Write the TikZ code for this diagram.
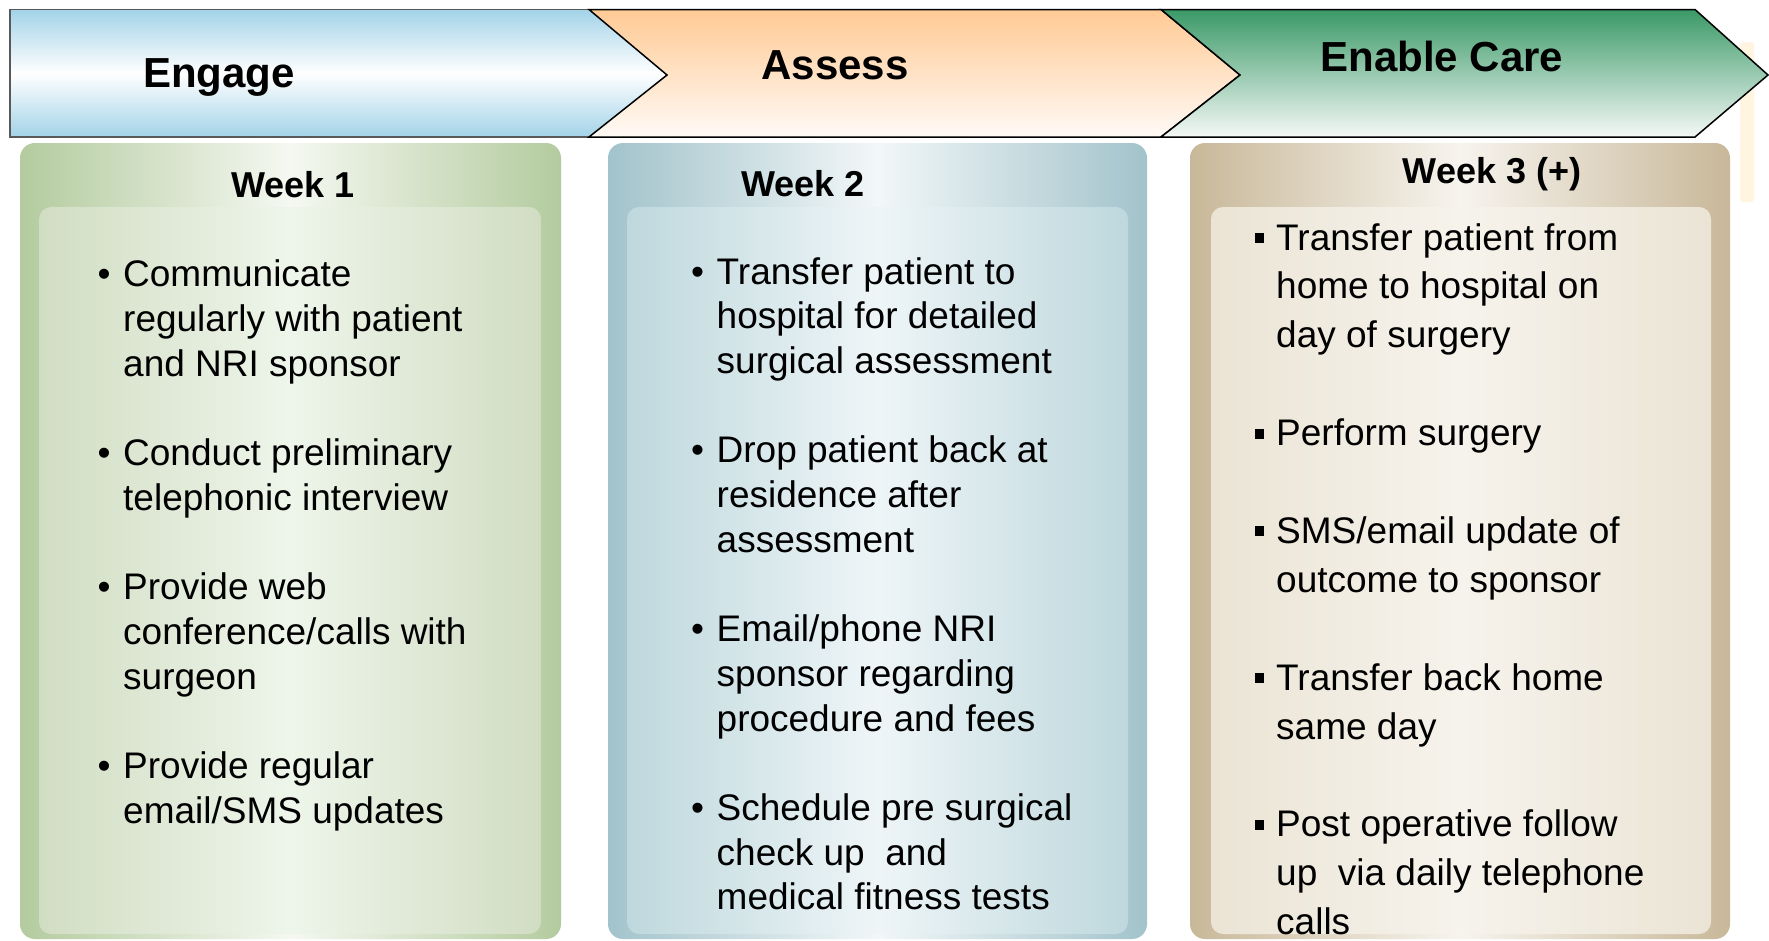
\documentclass[tikz,border=0pt]{standalone}
\usepackage{fontspec}
\setmainfont{Liberation Sans}
\definecolor{engblue}{HTML}{A3D3E8}
\definecolor{assor}{HTML}{FFCA94}
\definecolor{assbot}{HTML}{FFFAF6}
\definecolor{engreen}{HTML}{3A9967}
\definecolor{enbot}{HTML}{F5F9F7}
\definecolor{gOut}{HTML}{B3CB9E}
\definecolor{gOutMid}{HTML}{F5F8F1}
\definecolor{gIn}{HTML}{D1DDC3}
\definecolor{gInMid}{HTML}{EEF5EA}
\definecolor{bOut}{HTML}{A2C3CB}
\definecolor{bOutMid}{HTML}{F2F7F8}
\definecolor{bIn}{HTML}{BED8DD}
\definecolor{bInMid}{HTML}{EEF5F7}
\definecolor{tOut}{HTML}{C8B899}
\definecolor{tOutMid}{HTML}{F7F4EE}
\definecolor{tIn}{HTML}{EBE4D5}
\definecolor{tInMid}{HTML}{F6F3EC}
\definecolor{cream}{HTML}{FFF5E1}
\tikzset{
  bannerline/.style={line width=1.5pt, line join=miter},
  bigtitle/.style={font=\fontsize{42}{50}\selectfont\bfseries, anchor=base, inner sep=0pt},
  weektitle/.style={font=\fontsize{36}{43}\selectfont\bfseries, anchor=base, inner sep=0pt},
  itemnode/.style={anchor=base west, inner sep=0pt},
}
\newcommand\dotitem[5]{% name, x, y, baselineskip, text
  \node[itemnode] (#1) at (#2,#3) {\parbox[t]{450pt}{\fontsize{37}{#4}\selectfont
    \hangindent=25.5pt\hangafter=1\noindent\makebox[25.5pt][l]{•}#5}};}
\newcommand\sqitem[5]{% name, x, y, baselineskip, text
  \node[itemnode] (#1) at (#2,#3) {\parbox[t]{450pt}{\fontsize{37}{#4}\selectfont
    \hangindent=22pt\hangafter=1\noindent\makebox[22pt][l]{\hspace{1pt}\rule[7pt]{9pt}{10pt}}#5}};}
\begin{document}
\begin{tikzpicture}[x=1pt,y=-1pt]
\useasboundingbox (0,0) rectangle (1769,940);
\fill[white] (0,0) rectangle (1769,940);
% faint cream shape at the right edge
\fill[cream, rounded corners=3pt] (1740,42) rectangle (1754,202);

% banner chevrons
\shade[top color=engblue, bottom color=engblue, middle color=white]
  (10,9.5) -- (589,9.5) -- (667,75) -- (589,137) -- (10,137) -- cycle;
\draw[bannerline, draw=black!65]
  (589,137) -- (10,137) -- (10,9.5) -- (589,9.5);
\shade[top color=assor, bottom color=assbot]
  (589,9.5) -- (1161,9.5) -- (1240,75) -- (1161,137) -- (589,137) -- (667,75) -- cycle;
\draw[bannerline]
  (589,9.5) -- (1161,9.5) -- (1240,75) -- (1161,137) -- (589,137) -- (667,75) -- cycle;
\shade[top color=engreen, bottom color=enbot]
  (1161,9.5) -- (1695,9.5) -- (1768,75) -- (1695,137) -- (1161,137) -- (1240,75) -- cycle;
\draw[bannerline]
  (1161,9.5) -- (1695,9.5) -- (1768,75) -- (1695,137) -- (1161,137) -- (1240,75) -- cycle;

\node[bigtitle] (engage) at (219,87) {Engage};
\node[bigtitle] (assess) at (835,79) {Assess};
\node[bigtitle] (enable) at (1442,71) {Enable Care};

% column boxes
\shade[rounded corners=15pt, left color=gOut, right color=gOut, middle color=gOutMid]
  (20,143) rectangle (561,939);
\shade[rounded corners=12pt, left color=gIn, right color=gIn, middle color=gInMid]
  (39,207) rectangle (541,934);
\shade[rounded corners=15pt, left color=bOut, right color=bOut, middle color=bOutMid]
  (608,143) rectangle (1147,939);
\shade[rounded corners=12pt, left color=bIn, right color=bIn, middle color=bInMid]
  (627,207) rectangle (1128,934);
\shade[rounded corners=15pt, left color=tOut, right color=tOut, middle color=tOutMid]
  (1190,143) rectangle (1730,939);
\shade[rounded corners=12pt, left color=tIn, right color=tIn, middle color=tInMid]
  (1211,207) rectangle (1711,934);

\node[weektitle] (w1) at (293,197) {Week 1};
\node[weektitle] (w2) at (803,196) {Week 2};
\node[weektitle] (w3) at (1492,183) {Week 3 (+)};

% Week 1 items
\dotitem{a1}{97.5}{286.7}{44.7}{Communicate\\regularly with patient\\and NRI sponsor}
\dotitem{a2}{97.5}{465.5}{44.7}{Conduct preliminary\\telephonic interview}
\dotitem{a3}{97.5}{599.6}{44.7}{Provide web\\conference/calls with\\surgeon}
\dotitem{a4}{97.5}{778.4}{44.7}{Provide regular\\email/SMS updates}

% Week 2 items
\dotitem{b1}{691}{284}{44.7}{Transfer patient to\\hospital for detailed\\surgical assessment}
\dotitem{b2}{691}{462.8}{44.7}{Drop patient back at\\residence after\\assessment}
\dotitem{b3}{691}{641.6}{44.7}{Email/phone NRI\\sponsor regarding\\procedure and fees}
\dotitem{b4}{691}{820.4}{44.7}{Schedule pre surgical\\check up\ \ and\\medical fitness tests}

% Week 3 items
\sqitem{c1}{1254}{250}{48.9}{Transfer patient from\\home to hospital on\\day of surgery}
\sqitem{c2}{1254}{445.6}{48.9}{Perform surgery}
\sqitem{c3}{1254}{543.4}{48.9}{SMS/email update of\\outcome to sponsor}
\sqitem{c4}{1254}{690.1}{48.9}{Transfer back home\\same day}
\sqitem{c5}{1254}{836.8}{48.9}{Post operative follow\\up\ \ via daily telephone\\calls}
\end{tikzpicture}
\end{document}
